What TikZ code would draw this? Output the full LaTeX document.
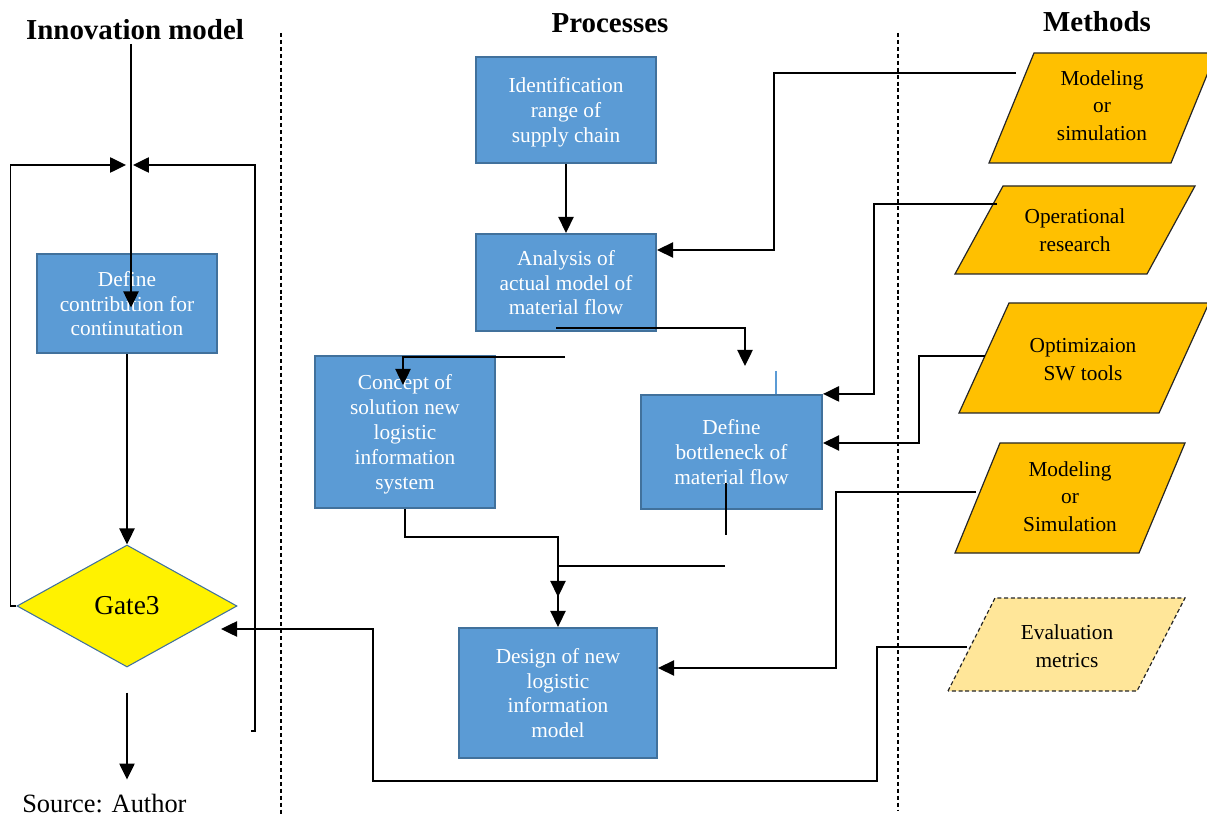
\documentclass[tikz,border=0pt]{standalone}
\usepackage{fontspec}
\setmainfont{Liberation Serif}
\usepackage{xcolor}
\usepackage{tikz}
\usetikzlibrary{positioning,arrows.meta,shapes.geometric}
\definecolor{boxblue}{HTML}{5B9BD5}
\definecolor{boxedge}{HTML}{41719C}
\definecolor{methgold}{HTML}{FFC000}
\definecolor{evalgold}{HTML}{FFE699}

\begin{document}
\begin{tikzpicture}[
  x=0.75pt, y=-0.75pt,
  title/.style   = {font=\fontsize{21.7}{26}\selectfont\bfseries, anchor=base},
  process/.style = {rectangle, draw=boxedge, line width=1.6pt, fill=boxblue, text=white,
    align=center, inner sep=0pt, minimum width=135pt, text depth=0pt,
    font=\fontsize{16}{18.6}\selectfont},
  gatebox/.style = {diamond, draw=boxedge, line width=0.8pt, fill=yellow, inner sep=0pt,
    minimum width=165pt, minimum height=91.5pt, font=\fontsize{20.5}{24}\selectfont},
  method/.style  = {draw=black!85, line width=0.9pt, fill=methgold},
  metric/.style  = {method, fill=evalgold, dash pattern=on 3pt off 2pt},
  methodtext/.style = {align=center, inner sep=0pt, font=\fontsize{16}{20.8}\selectfont},
  divider/.style = {dash pattern=on 3pt off 2.2pt, line width=0.8pt},
  arrow/.style   = {-{Triangle[length=12pt,width=11.5pt]}, line width=1pt},
  link/.style    = {line width=1pt},
]
  \useasboundingbox (0,0) rectangle (1207,816);

  \node[title] (innov) at (135,40) {Innovation model};
  \node[title] (proc)  at (610,33) {Processes};
  \node[title] (meth)  at (1097,32) {Methods};
  \node[anchor=base west, inner sep=0pt, font=\fontsize{19.8}{24}\selectfont] (source) at (22,812) {Source: Author};

  \draw[divider] (281,33) -- (281,816);
  \draw[divider] (898,33) -- (898,810);

  \node[process, minimum height=74.25pt] (contrib) at (127,303.5) {Define\\contribution for\\continutation};
  \node[gatebox] (gate) at (127,606) {Gate3};

  \node[process, minimum height=79.5pt]  (ident)    at (566,110)   {Identification\\range of\\supply chain};
  \node[process, minimum height=72.75pt] (analysis) at (566,282.5) {Analysis of\\actual model of\\material flow};
  \node[process, minimum height=114pt]   (concept)  at (405,432)   {Concept of\\solution new\\logistic\\information\\system};
  \node[process, minimum width=135.75pt, minimum height=85.5pt] (bottle) at (731.5,452) {Define\\bottleneck of\\material flow};
  \node[process, minimum width=148.5pt, minimum height=97.5pt]  (design) at (558,693)   {Design of new\\logistic\\information\\model};

  \filldraw[method] (989,163) -- (1034,53) -- (1216,53) -- (1171,163) -- cycle;
  \node[methodtext] (model1) at (1102,105.5) {Modeling\\or\\simulation};
  \filldraw[method] (955,274) -- (1003,186) -- (1195,186) -- (1147,274) -- cycle;
  \node[methodtext] (oper) at (1075,230.5) {Operational\\research};
  \filldraw[method] (959,413) -- (1009,303) -- (1209,303) -- (1159,413) -- cycle;
  \node[methodtext] (optim) at (1083,359.5) {Optimizaion\\SW tools};
  \filldraw[method] (955,553) -- (1000,443) -- (1185,443) -- (1139,553) -- cycle;
  \node[methodtext] (model2) at (1070,496.5) {Modeling\\or\\Simulation};
  \filldraw[metric] (948,691) -- (995,598) -- (1185,598) -- (1137,691) -- cycle;
  \node[methodtext] (evalm) at (1067,646) {Evaluation\\metrics};

  \coordinate (entry) at (131,44);
  \coordinate (join)  at (129.5,165);
  \coordinate (back)  at (251,731);
  \draw[arrow] (entry) -- ([yshift=-3pt]entry |- contrib.center);
  \draw[arrow] (gate.west) -- ++(-6,0) |- ([xshift=-2.6pt]join);
  \draw[arrow] (back) -- ++(4,0) |- ([xshift=2.6pt]join);
  \draw[arrow] (contrib.south) -- (gate.north);
  \draw[arrow, shorten <=18.75pt] (gate.south) -- ++(0,112);

  \draw[arrow] (ident.south) -- (analysis.north);

  \coordinate (m1out) at (1016,73);
  \draw[arrow] (m1out) -- (774,73) |- (analysis.east |- 0,250);

  \coordinate (a1)   at (556,328);
  \coordinate (btip) at (745,366);
  \draw[arrow] (a1) -| (btip);
  \draw[boxblue, line width=0.8pt] (776,371) -- (bottle.north -| 776,0);

  \coordinate (c1) at (565,357);
  \draw[arrow] (c1) -| (403,385);
  \draw[arrow] (concept.south) -- ++(0,28) -| ([yshift=22.5pt]design.north);

  \coordinate (b1) at (726,483);
  \coordinate (b2) at (725,566);
  \draw[link] (b1) -- ++(0,52);
  \draw[arrow] (b2) -| (design.north);

  \coordinate (m2out) at (997,204);
  \draw[arrow] (m2out) -- (874,204) |- (bottle.north east);
  \coordinate (m3out) at (985,356);
  \draw[arrow] (m3out) -- (919,356) |- (bottle.east |- 0,443);
  \coordinate (m4out) at (976,492);
  \draw[arrow] (m4out) -- (836,492) |- (design.east |- 0,668);
  \coordinate (m5out) at (967,647);
  \coordinate (gtip)  at (221,629);
  \draw[arrow] (m5out) -- (877,647) |- (373,781) |- (gtip);
\end{tikzpicture}
\end{document}
